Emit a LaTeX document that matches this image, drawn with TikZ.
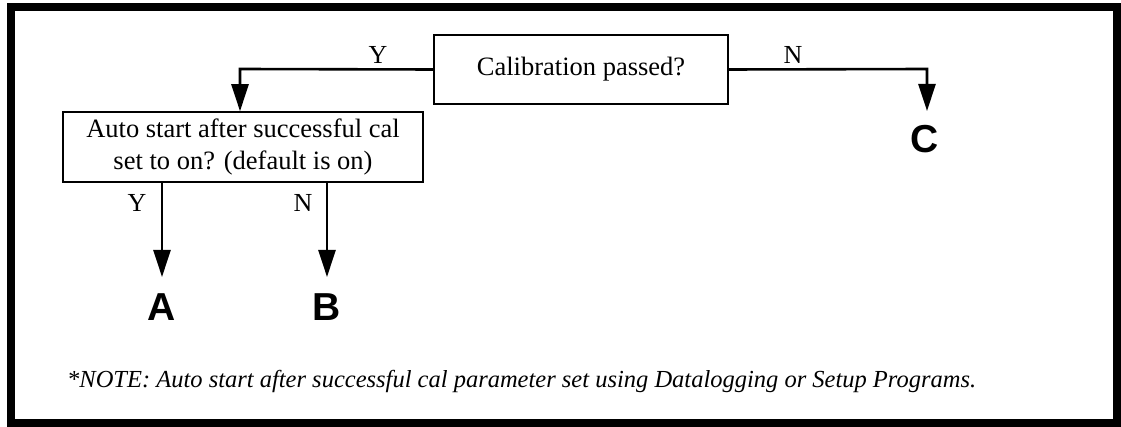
\documentclass[tikz,border=0pt]{standalone}
\usepackage{fontspec}
\setmainfont{Liberation Serif}
\newfontfamily\headfont{Liberation Sans}
\usetikzlibrary{arrows.meta}
\begin{document}
\begin{tikzpicture}[x=1pt,y=-1pt,
  box/.style={draw,line width=1.5pt,inner sep=0pt,align=center,
    font=\fontsize{26.5}{32}\selectfont},
  flow/.style={line width=2.6pt,-{Triangle[length=27pt,width=17pt]}},
  lbl/.style={inner sep=0pt,font=\fontsize{26}{30}\selectfont},
  term/.style={inner sep=0pt,font=\headfont\bfseries\fontsize{39}{44}\selectfont}]
\useasboundingbox (0,0) rectangle (1121,427);
\draw[line width=8pt] (11,7) rectangle (1117,423);
\node[box,minimum width=294pt,minimum height=69pt] (cal) at (581,69.5) {Calibration passed?};
\node[box,minimum width=360pt,minimum height=70pt] (auto) at (243,147) {Auto start after successful cal\\set to on? (default is on)};
\coordinate (ytop) at (240,69);
\coordinate (ntop) at (927,69);
\node[term] (C) at (925,139) {C};
\node[term] (A) at (162,307) {A};
\node[term] (B) at (327,307) {B};
\coordinate (ctip) at (927,111);
\coordinate (atip) at (162,277);
\coordinate (btip) at (327,277);
\draw[flow] (cal.west) -- (ytop) -- (auto.north -| ytop);
\draw[flow] (cal.east) -- (ntop) -- (ctip);
\draw[flow] (auto.south -| atip) -- (atip);
\draw[flow] (auto.south -| btip) -- (btip);
\node[lbl] (ly) at (378,55) {Y};
\node[lbl] (ln) at (793,55) {N};
\node[lbl] (lya) at (137,203) {Y};
\node[lbl] (lnb) at (303,203) {N};
\node[anchor=base west,inner sep=0pt,font=\fontsize{24.5}{29}\selectfont\itshape] (note) at (67,387)
  {*NOTE: Auto start after successful cal parameter set using Datalogging or Setup Programs.};
\end{tikzpicture}
\end{document}
